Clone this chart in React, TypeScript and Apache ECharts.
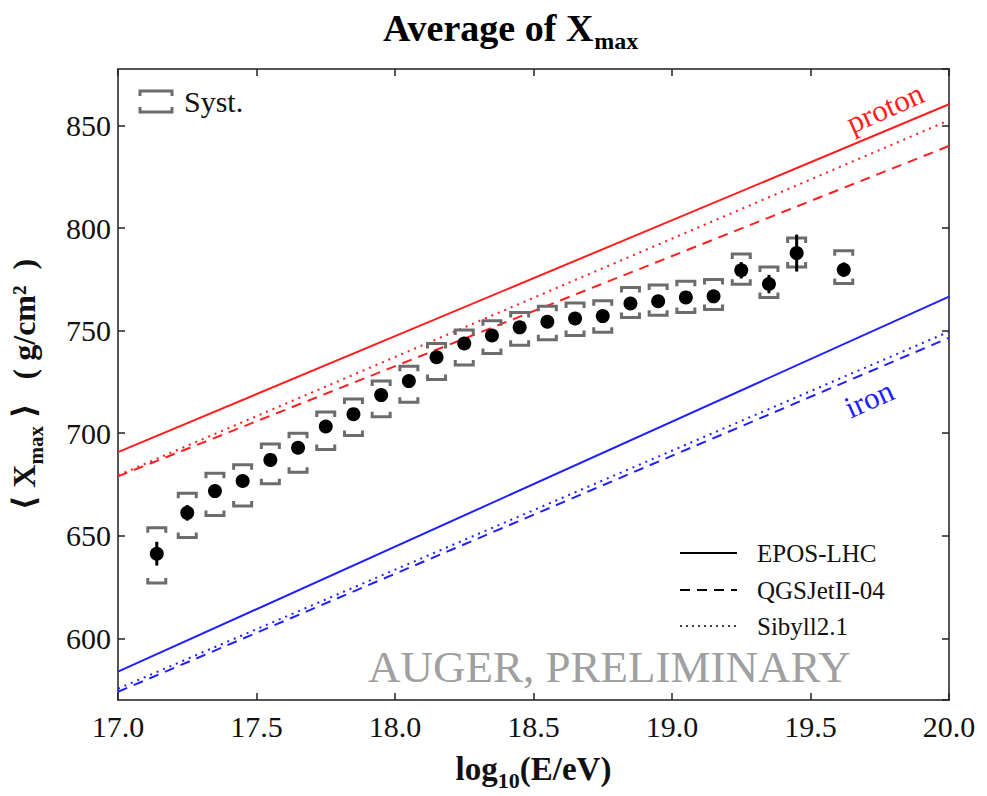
import React, { useEffect, useRef } from "react";
import * as echarts from "echarts";

// log10(E/eV) bin centres
const energyBins = [17.14, 17.25, 17.35, 17.45, 17.55, 17.65, 17.75, 17.85, 17.95, 18.05, 18.15, 18.25, 18.35, 18.45, 18.55, 18.65, 18.75, 18.85, 18.95, 19.05, 19.15, 19.25, 19.35, 19.45, 19.62];
// <Xmax> in g/cm^2
const meanXmax = [641.3, 661.2, 671.8, 676.7, 687.0, 692.9, 703.3, 709.3, 718.6, 725.4, 737.0, 743.7, 747.6, 751.6, 754.3, 755.9, 757.1, 763.2, 764.3, 766.2, 766.7, 779.4, 772.7, 787.8, 779.7];
const statErr = [5.8, 3.8, 2.5, 2.0, 2.0, 1.5, 1.5, 1.5, 1.5, 1.5, 1.5, 1.5, 1.5, 1.5, 2.0, 2.0, 2.0, 2.0, 2.5, 2.5, 3.0, 4.0, 4.5, 9.0, 3.5];
const systUpper = [654.0, 670.7, 680.5, 684.6, 694.8, 700.0, 710.3, 716.7, 725.4, 732.6, 743.7, 750.3, 754.8, 758.8, 761.9, 763.5, 764.6, 771.0, 772.2, 774.1, 774.9, 787.3, 781.0, 795.2, 788.9];
const systLower = [627.0, 649.2, 659.9, 664.6, 675.4, 681.0, 692.1, 698.9, 708.0, 715.1, 726.2, 733.3, 738.9, 742.9, 745.6, 747.6, 749.2, 756.4, 757.5, 758.8, 760.3, 772.6, 766.2, 781.0, 773.0];

// model predictions (straight lines between the two energy ends)
const modelEnergies = [17.0, 20.0];
const protonEPOS = [690.8, 860.3];
const protonQGS = [679.0, 840.0];
const protonSibyll = [679.5, 852.5];
const ironEPOS = [583.8, 766.6];
const ironQGS = [574.0, 746.5];
const ironSibyll = [575.5, 749.5];

const xRange = [17.0, 20.0];
const yRange = [570, 877.5];

const SERIF = "'Liberation Serif', 'DejaVu Serif', serif";
const RED = "#ff1f1f";
const BLUE = "#1f1fff";
const SYST_GRAY = "#6c6c6c";

function modelLine(name: string, values: number[], color: string, type: any, width = 2) {
  return {
    name,
    type: "line",
    data: modelEnergies.map((e, i) => [e, values[i]]),
    showSymbol: false,
    symbol: "none",
    lineStyle: { color, width, type },
    z: 2,
    silent: true,
  };
}

export default function App() {
  const ref = useRef<HTMLDivElement>(null);

  useEffect(() => {
    document.body.style.margin = "0";
    if (!ref.current) return;
    const chart = echarts.init(ref.current, null, { renderer: "svg" });

    const axisLine = { show: true, lineStyle: { color: "#555", width: 2 } };
    const tickStyle = { show: true, inside: true, length: 7, lineStyle: { color: "#222", width: 1.5 } };

    const option: any = {
      animation: false,
      backgroundColor: "#fff",
      title: {
        text: "{a|Average of X}{s|max}",
        left: 378,
        top: 4,
        textStyle: {
          rich: {
            a: { fontFamily: SERIF, fontWeight: "bold", fontSize: 38, color: "#000", verticalAlign: "top", lineHeight: 44 },
            s: { fontFamily: SERIF, fontWeight: "bold", fontSize: 24, color: "#000", verticalAlign: "top", padding: [20, 0, 0, 1] },
          },
        },
      },
      grid: { left: 114, right: 38, top: 69, bottom: 81, containLabel: false },
      xAxis: [
        {
          type: "value",
          min: xRange[0],
          max: xRange[1],
          interval: 0.5,
          position: "bottom",
          axisLine,
          axisTick: tickStyle,
          splitLine: { show: false },
          axisLabel: {
            formatter: (v: number) => v.toFixed(1),
            fontFamily: SERIF,
            fontSize: 30,
            color: "#111",
            margin: 11,
          },
          name: "{a|log}{s|10}{a|(E/eV)}",
          nameLocation: "middle",
          nameGap: 52,
          nameTextStyle: {
            rich: {
              a: { fontFamily: SERIF, fontWeight: "bold", fontSize: 33, color: "#111", verticalAlign: "top", lineHeight: 36 },
              s: { fontFamily: SERIF, fontWeight: "bold", fontSize: 22, color: "#111", verticalAlign: "top", padding: [17, 0, 0, 0] },
            },
          },
        },
        {
          type: "value",
          min: xRange[0],
          max: xRange[1],
          interval: 0.5,
          position: "top",
          axisLine,
          axisTick: tickStyle,
          axisLabel: { show: false },
          splitLine: { show: false },
        },
      ],
      yAxis: [
        {
          type: "value",
          min: yRange[0],
          max: yRange[1],
          splitNumber: 6,
          position: "left",
          axisLine,
          axisTick: tickStyle,
          splitLine: { show: false },
          axisLabel: {
            showMinLabel: false,
            showMaxLabel: false,
            formatter: (v: number) => (v % 50 === 0 ? String(v) : ""),
            fontFamily: SERIF,
            fontSize: 30,
            color: "#111",
            margin: 7,
          },
          name: "{a|⟨ X}{s|max}{a| ⟩   ( g/cm²  )}",
          nameLocation: "middle",
          nameGap: 72,
          nameRotate: 90,
          nameTextStyle: {
            rich: {
              a: { fontFamily: SERIF, fontWeight: "bold", fontSize: 32, color: "#111", verticalAlign: "top", lineHeight: 36 },
              s: { fontFamily: SERIF, fontWeight: "bold", fontSize: 21, color: "#111", verticalAlign: "top", padding: [17, 0, 0, 0] },
            },
          },
        },
        {
          type: "value",
          min: yRange[0],
          max: yRange[1],
          splitNumber: 6,
          position: "right",
          axisLine,
          axisTick: tickStyle,
          axisLabel: { show: false },
          splitLine: { show: false },
        },
      ],
      series: [
        modelLine("proton EPOS-LHC", protonEPOS, RED, "solid"),
        modelLine("proton QGSJetII-04", protonQGS, RED, [10, 7]),
        modelLine("proton Sibyll2.1", protonSibyll, RED, [2, 5]),
        modelLine("iron EPOS-LHC", ironEPOS, BLUE, "solid"),
        modelLine("iron QGSJetII-04", ironQGS, BLUE, [10, 7]),
        modelLine("iron Sibyll2.1", ironSibyll, BLUE, [2, 5]),
        {
          name: "Syst.",
          type: "custom",
          z: 3,
          silent: true,
          data: energyBins.map((e, i) => [e, systUpper[i], systLower[i]]),
          renderItem: (params: any, api: any) => {
            const x = api.value(0);
            const pu = api.coord([x, api.value(1)]);
            const pl = api.coord([x, api.value(2)]);
            const hw = 9;
            const h = 5;
            const style = { stroke: SYST_GRAY, lineWidth: 3, fill: "none" };
            return {
              type: "group",
              children: [
                {
                  type: "polyline",
                  shape: { points: [[pu[0] - hw, pu[1] + h], [pu[0] - hw, pu[1]], [pu[0] + hw, pu[1]], [pu[0] + hw, pu[1] + h]] },
                  style,
                },
                {
                  type: "polyline",
                  shape: { points: [[pl[0] - hw, pl[1] - h], [pl[0] - hw, pl[1]], [pl[0] + hw, pl[1]], [pl[0] + hw, pl[1] - h]] },
                  style,
                },
              ],
            };
          },
        },
        {
          name: "stat",
          type: "custom",
          z: 4,
          silent: true,
          data: energyBins.map((e, i) => [e, meanXmax[i] - statErr[i], meanXmax[i] + statErr[i]]),
          renderItem: (params: any, api: any) => {
            const x = api.value(0);
            const p1 = api.coord([x, api.value(1)]);
            const p2 = api.coord([x, api.value(2)]);
            return {
              type: "line",
              shape: { x1: p1[0], y1: p1[1], x2: p2[0], y2: p2[1] },
              style: { stroke: "#000", lineWidth: 3 },
            };
          },
        },
        {
          name: "data",
          type: "scatter",
          z: 5,
          silent: true,
          symbol: "circle",
          symbolSize: 14,
          itemStyle: { color: "#000", opacity: 1 },
          data: energyBins.map((e, i) => [e, meanXmax[i]]),
        },
      ],
      graphic: [
        // Syst. legend
        {
          type: "polyline",
          shape: { points: [[140, 96], [140, 91], [172, 91], [172, 96]] },
          style: { stroke: SYST_GRAY, lineWidth: 3, fill: "none" },
        },
        {
          type: "polyline",
          shape: { points: [[140, 107], [140, 112], [172, 112], [172, 107]] },
          style: { stroke: SYST_GRAY, lineWidth: 3, fill: "none" },
        },
        {
          type: "text",
          x: 184,
          y: 101,
          style: { text: "Syst.", fontFamily: SERIF, fontSize: 30, fill: "#111", verticalAlign: "middle", align: "left" },
        },
        // model legend
        { type: "line", shape: { x1: 680, y1: 553, x2: 737, y2: 553 }, style: { stroke: "#000", lineWidth: 2 } },
        { type: "line", shape: { x1: 680, y1: 590, x2: 737, y2: 590 }, style: { stroke: "#000", lineWidth: 2, lineDash: [10, 7] } },
        { type: "line", shape: { x1: 680, y1: 626, x2: 737, y2: 626 }, style: { stroke: "#000", lineWidth: 1.5, lineDash: [2, 4] } },
        { type: "text", x: 757, y: 553, style: { text: "EPOS-LHC", fontFamily: SERIF, fontSize: 25, fill: "#111", verticalAlign: "middle" } },
        { type: "text", x: 757, y: 590, style: { text: "QGSJetII-04", fontFamily: SERIF, fontSize: 25, fill: "#111", verticalAlign: "middle" } },
        { type: "text", x: 757, y: 626, style: { text: "Sibyll2.1", fontFamily: SERIF, fontSize: 25, fill: "#111", verticalAlign: "middle" } },
        // watermark
        {
          type: "text",
          x: 368,
          y: 667,
          style: { text: "AUGER, PRELIMINARY", fontFamily: SERIF, fontSize: 45, fill: "#a0a0a0", verticalAlign: "middle" },
        },
        // primary labels
        {
          type: "text",
          x: 885,
          y: 108,
          rotation: (24 * Math.PI) / 180,
          style: { text: "proton", fontFamily: SERIF, fontSize: 31, fill: RED, align: "center", verticalAlign: "middle" },
        },
        {
          type: "text",
          x: 869,
          y: 399,
          rotation: (24 * Math.PI) / 180,
          style: { text: "iron", fontFamily: SERIF, fontSize: 31, fill: BLUE, align: "center", verticalAlign: "middle" },
        },
      ],
    };

    chart.setOption(option);
    return () => chart.dispose();
  }, []);

  return <div ref={ref} style={{ width: 987, height: 796 }} />;
}
